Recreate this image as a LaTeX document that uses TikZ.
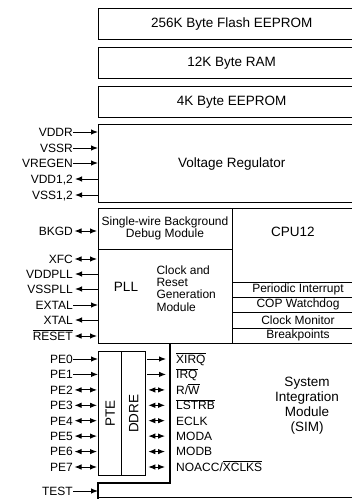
\documentclass[tikz,border=0pt]{standalone}
\usepackage{fontspec}
\setmainfont{Liberation Sans}
\usetikzlibrary{arrows.meta}
\newcommand\ovl[1]{$\overline{\mbox{#1}}$}
\begin{document}
\begin{tikzpicture}[x=1pt,y=-1pt,
 >={Latex[length=7pt,width=5.5pt]},
 blk/.style={draw, line width=1.4pt, anchor=north west, inner sep=0pt},
 thin/.style={line width=1pt},
 big/.style={font=\fontsize{13.5}{15}\selectfont},
 small/.style={font=\fontsize{12}{12.3}\selectfont},
 pin/.style={font=\fontsize{12}{12}\selectfont, inner sep=0pt, text height=8.6pt, text depth=0pt, anchor=east},
 sig/.style={font=\fontsize{12}{12}\selectfont, inner sep=0pt, text height=8.6pt, text depth=0pt, anchor=west},
 conn/.style={line width=1pt},
 inarr/.style={conn,->},
 outarr/.style={conn,<-,shorten <=2pt},
 bidir/.style={conn,<->,shorten <=1.5pt,shorten >=1pt},
 rin/.style={conn,->,shorten <=1pt,shorten >=4pt},
 rbi/.style={conn,<->,shorten <=2pt,shorten >=5pt},
]
\useasboundingbox (0,0) rectangle (352,499);
\clip (0,0) rectangle (352,499);

% memory blocks
\node[blk, minimum width=266pt, minimum height=31pt] (flash) at (98,8) {};
\node[big] at (flash.center) {256K Byte Flash EEPROM};
\node[blk, minimum width=266pt, minimum height=31pt] (ram) at (98,47) {};
\node[big] at (ram.center) {12K Byte RAM};
\node[blk, minimum width=266pt, minimum height=31pt] (eep) at (98,86) {};
\node[big] at (eep.center) {4K Byte EEPROM};
\node[blk, minimum width=266pt, minimum height=78pt] (reg) at (98,124) {};
\node[big] at (reg.center) {Voltage Regulator};

% core block
\node[blk, minimum width=266pt, minimum height=135pt] (core) at (98,208) {};
\draw[thin] (232,208) -- (232,343);
\draw[thin] (98,249) -- (232,249);
\draw[thin] (232,282) -- (364,282);
\draw[thin] (232,297) -- (364,297);
\draw[thin] (232,312) -- (364,312);
\draw[thin] (232,328) -- (364,328);
\node[small, align=center] at (165,228.5) {Single-wire Background\\Debug Module};
\node[big] at (293,232) {CPU12};
\node[big] at (126,287) {PLL};
\node[small, align=left, anchor=west] at (153,288.5) {Clock and\\Reset\\Generation\\Module};
\node[small] at (298,289.5) {Periodic Interrupt};
\node[small] at (298,304.5) {COP Watchdog};
\node[small] at (298,320) {Clock Monitor};
\node[small] at (298,335.5) {Breakpoints};

% SIM outline
\coordinate (simw) at (170,343);
\draw[line width=1.4pt] (simw) -- (170,483) -- (98,483) -- (98,505);
\draw[thin] (98,497) -- (364,497);
\node[big, align=center] at (307,405.5) {System\\Integration\\Module\\(SIM)};

% PTE / DDRE
\node[blk, line width=1.3pt, minimum width=23pt, minimum height=124pt] (pte) at (98,351) {};
\node[blk, line width=1.3pt, minimum width=24pt, minimum height=124pt] (ddre) at (121,351) {};
\node[big, rotate=90] at (pte.center) {PTE};
\node[big, rotate=90] at (ddre.center) {DDRE};

% regulator pins
\node[pin] (vddr) at (73,132) {VDDR};
\node[pin] (vssr) at (73,148) {VSSR};
\node[pin] (vregen) at (73,163) {VREGEN};
\node[pin] (vdd) at (73,179) {VDD1,2};
\node[pin] (vss) at (73,195) {VSS1,2};
\draw[inarr] (vddr.east) -- (vddr.east -| reg.west);
\draw[inarr] (vssr.east) -- (vssr.east -| reg.west);
\draw[inarr] (vregen.east) -- (vregen.east -| reg.west);
\draw[outarr] (vdd.east) -- (vdd.east -| reg.west);
\draw[outarr] (vss.east) -- (vss.east -| reg.west);

% core pins
\node[pin] (bkgd) at (73,231) {BKGD};
\node[pin] (xfc) at (73,259) {XFC};
\node[pin] (vddpll) at (73,274) {VDDPLL};
\node[pin] (vsspll) at (73,289) {VSSPLL};
\node[pin] (extal) at (73,305) {EXTAL};
\node[pin] (xtal) at (73,320) {XTAL};
\node[pin] (reset) at (73,336) {\ovl{RESET}};
\draw[bidir] (bkgd.east) -- (bkgd.east -| core.west);
\draw[bidir] (xfc.east) -- (xfc.east -| core.west);
\draw[outarr] (vddpll.east) -- (vddpll.east -| core.west);
\draw[outarr] (vsspll.east) -- (vsspll.east -| core.west);
\draw[inarr] (extal.east) -- (extal.east -| core.west);
\draw[outarr] (xtal.east) -- (xtal.east -| core.west);
\draw[bidir] (reset.east) -- (reset.east -| core.west);

% port E pins
\node[pin] (pe0) at (73,359) {PE0};
\node[pin] (pe1) at (73,374.4) {PE1};
\node[pin] (pe2) at (73,389.9) {PE2};
\node[pin] (pe3) at (73,405.3) {PE3};
\node[pin] (pe4) at (73,420.7) {PE4};
\node[pin] (pe5) at (73,436.1) {PE5};
\node[pin] (pe6) at (73,451.6) {PE6};
\node[pin] (pe7) at (73,467) {PE7};
\draw[inarr] (pe0.east) -- (pe0.east -| pte.west);
\draw[inarr] (pe1.east) -- (pe1.east -| pte.west);
\draw[bidir] (pe2.east) -- (pe2.east -| pte.west);
\draw[bidir] (pe3.east) -- (pe3.east -| pte.west);
\draw[bidir] (pe4.east) -- (pe4.east -| pte.west);
\draw[bidir] (pe5.east) -- (pe5.east -| pte.west);
\draw[bidir] (pe6.east) -- (pe6.east -| pte.west);
\draw[bidir] (pe7.east) -- (pe7.east -| pte.west);

% SIM signals
\node[sig] (xirq) at (176,359) {\ovl{XIRQ}};
\node[sig] (irq) at (176,374.4) {\ovl{IRQ}};
\node[sig] (rw) at (176,389.9) {R/\ovl{W}};
\node[sig] (lstrb) at (176,405.3) {\ovl{LSTRB}};
\node[sig] (eclk) at (176,420.7) {ECLK};
\node[sig] (moda) at (176,436.1) {MODA};
\node[sig] (modb) at (176,451.6) {MODB};
\node[sig] (noacc) at (176,467) {NOACC/\ovl{XCLKS}};
\draw[rin] (xirq.west -| ddre.east) -- (xirq.west -| simw);
\draw[rin] (irq.west -| ddre.east) -- (irq.west -| simw);
\draw[rbi] (rw.west -| ddre.east) -- (rw.west -| simw);
\draw[rbi] (lstrb.west -| ddre.east) -- (lstrb.west -| simw);
\draw[rbi] (eclk.west -| ddre.east) -- (eclk.west -| simw);
\draw[rbi] (moda.west -| ddre.east) -- (moda.west -| simw);
\draw[rbi] (modb.west -| ddre.east) -- (modb.west -| simw);
\draw[rbi] (noacc.west -| ddre.east) -- (noacc.west -| simw);

% TEST
\coordinate (testin) at (98,491);
\node[pin] (test) at (73,491) {TEST};
\draw[inarr] (test.east) -- (test.east -| testin);
\end{tikzpicture}
\end{document}
